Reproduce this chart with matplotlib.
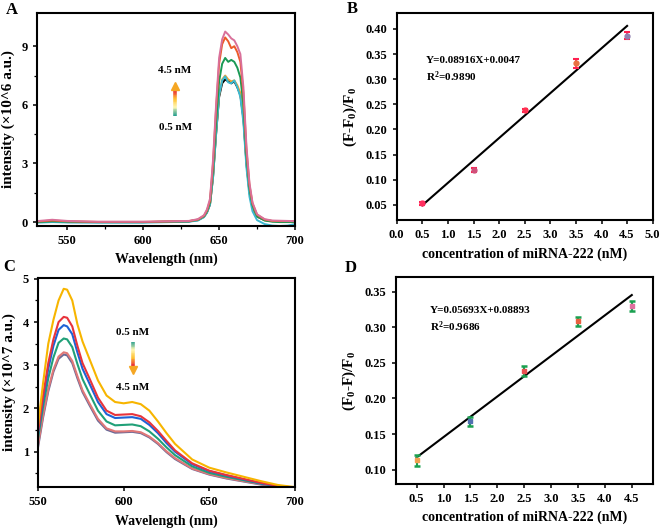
import numpy as np
import matplotlib
matplotlib.use("Agg")
import matplotlib.pyplot as plt
from matplotlib.collections import LineCollection
from matplotlib.colors import LinearSegmentedColormap

plt.rcParams['font.family'] = ['Liberation Serif', 'DejaVu Serif']
plt.rcParams['font.weight'] = 'bold'
plt.rcParams['axes.labelweight'] = 'bold'
plt.rcParams['mathtext.fontset'] = 'custom'
plt.rcParams['mathtext.rm'] = 'Liberation Serif:bold'
plt.rcParams['mathtext.it'] = 'Liberation Serif:bold'
plt.rcParams['mathtext.bf'] = 'Liberation Serif:bold'

# ---- panel A: spectra (x10^6)
wl_a = [530, 540, 550, 570, 600, 630, 636, 640, 642, 644, 646, 648, 650, 652, 654,
        656, 658, 660, 662, 664, 666, 668, 670, 672, 675, 680, 685, 690, 695, 700]
a_black = [0.0, 0.02, 0.0, 0.0, 0.0, 0.03, 0.1, 0.27, 0.5, 0.9, 2.3, 4.5, 6.4, 7.1, 7.3,
           7.2, 7.1, 7.2, 6.9, 6.5, 5.3, 3.0, 1.5, 0.75, 0.28, 0.1, 0.05, 0.04, 0.03, 0.03]
a_orange = [0.0, 0.03, 0.01, 0.0, 0.0, 0.04, 0.11, 0.28, 0.5, 0.95, 2.4, 4.6, 6.5, 7.3, 7.5,
            7.3, 7.2, 7.25, 7.0, 6.6, 5.4, 3.1, 1.6, 0.8, 0.3, 0.1, 0.05, 0.04, 0.03, 0.03]
a_teal = [-0.03, 0.0, -0.02, -0.03, -0.03, 0.02, 0.08, 0.25, 0.48, 0.9, 2.3, 4.5, 6.5, 7.25, 7.45,
          7.15, 7.1, 7.25, 6.9, 6.4, 5.1, 2.8, 1.3, 0.55, 0.1, -0.1, -0.18, -0.2, -0.18, -0.1]
a_green = [0.0, 0.04, 0.02, 0.0, 0.0, 0.04, 0.12, 0.3, 0.55, 1.0, 2.7, 5.1, 7.2, 8.1, 8.4,
           8.2, 8.3, 8.2, 7.9, 7.4, 6.0, 3.4, 1.7, 0.85, 0.3, 0.08, 0.02, 0.0, 0.0, 0.0]
a_red = [0.03, 0.08, 0.04, 0.01, 0.01, 0.05, 0.13, 0.32, 0.6, 1.1, 3.0, 5.8, 8.1, 9.1, 9.45,
         9.25, 8.9, 9.0, 8.7, 8.2, 6.6, 3.7, 1.9, 0.95, 0.38, 0.13, 0.06, 0.05, 0.05, 0.04]
a_pink = [0.05, 0.12, 0.06, 0.02, 0.02, 0.06, 0.15, 0.35, 0.65, 1.2, 3.2, 6.0, 8.4, 9.35, 9.75,
          9.6, 9.4, 9.3, 9.0, 8.6, 6.9, 3.9, 2.0, 1.0, 0.4, 0.15, 0.08, 0.07, 0.06, 0.05]

# ---- panel B: calibration
conc = [0.5, 1.5, 2.5, 3.5, 4.5]
b_y = [0.053, 0.120, 0.238, 0.332, 0.386]
b_err = [0.003, 0.004, 0.003, 0.009, 0.007]
b_slope, b_icpt = 0.08916, 0.0047

# ---- panel C: spectra (x10^7)
wl_c = [550, 553, 556, 559, 562, 565, 567, 570, 573, 576, 580, 585, 590, 595, 600,
        605, 610, 615, 620, 625, 630, 640, 650, 660, 670, 680, 690, 700]
c_yellow = [1.6, 2.6, 3.5, 4.05, 4.5, 4.77, 4.75, 4.5, 3.95, 3.55, 3.15, 2.65, 2.3, 2.15, 2.12,
            2.15, 2.1, 1.95, 1.7, 1.43, 1.18, 0.82, 0.63, 0.52, 0.42, 0.32, 0.23, 0.18]
c_red = [1.45, 2.3, 3.05, 3.6, 4.0, 4.12, 4.1, 3.9, 3.45, 3.05, 2.7, 2.25, 1.95, 1.85, 1.86,
         1.87, 1.82, 1.68, 1.48, 1.25, 1.03, 0.73, 0.56, 0.46, 0.37, 0.28, 0.21, 0.17]
c_blue = [1.4, 2.2, 2.92, 3.45, 3.82, 3.93, 3.9, 3.72, 3.3, 2.92, 2.58, 2.15, 1.87, 1.78, 1.79,
          1.8, 1.76, 1.62, 1.43, 1.2, 1.0, 0.71, 0.55, 0.45, 0.36, 0.27, 0.2, 0.17]
c_green = [1.3, 2.05, 2.7, 3.18, 3.52, 3.62, 3.6, 3.42, 3.03, 2.68, 2.35, 1.95, 1.7, 1.61, 1.62,
           1.63, 1.59, 1.47, 1.3, 1.1, 0.92, 0.66, 0.51, 0.42, 0.34, 0.26, 0.2, 0.17]
c_pink = [1.15, 1.85, 2.45, 2.9, 3.2, 3.3, 3.28, 3.1, 2.75, 2.42, 2.12, 1.76, 1.54, 1.47, 1.47,
          1.48, 1.45, 1.35, 1.2, 1.01, 0.85, 0.61, 0.48, 0.39, 0.32, 0.25, 0.19, 0.16]
c_purple = [1.1, 1.8, 2.4, 2.85, 3.15, 3.25, 3.23, 3.05, 2.7, 2.38, 2.08, 1.72, 1.51, 1.44, 1.45,
            1.46, 1.43, 1.33, 1.18, 0.99, 0.83, 0.6, 0.47, 0.38, 0.31, 0.24, 0.18, 0.16]

# ---- panel D: calibration
d_y = [0.113, 0.168, 0.238, 0.308, 0.330]
d_err = [0.008, 0.006, 0.007, 0.007, 0.007]
d_slope, d_icpt = 0.05693, 0.08893

W, H = 661, 528
fig = plt.figure(figsize=(W / 100, H / 100), dpi=100)


def box(l, t, r, b):
    return [l / W, 1 - b / H, (r - l) / W, (b - t) / H]


def style(ax):
    for s in ax.spines.values():
        s.set_linewidth(1.5)
    ax.tick_params(direction='out', length=3, width=1.1, labelsize=9)
    ax.tick_params(which='minor', length=2, width=0.9)
    for lab in ax.get_xticklabels() + ax.get_yticklabels():
        lab.set_fontweight('bold')


def grad_arrow(ax, x, y0, y1, colors):
    ys = np.linspace(y0, y1, 30)
    segs = [[(x, ys[i]), (x, ys[i + 1])] for i in range(len(ys) - 1)]
    cmap = LinearSegmentedColormap.from_list('g', colors)
    lc = LineCollection(segs, colors=cmap(np.linspace(0, 1, len(segs))), linewidths=2.6)
    ax.add_collection(lc)


# A
axA = fig.add_axes(box(37, 13, 295, 226))
for y, c in [(a_black, 'black'), (a_orange, '#f0a030'), (a_teal, '#3cb8d0'),
             (a_green, '#1a9a55'), (a_red, '#ec5a2a'), (a_pink, '#d9709a')]:
    axA.plot(wl_a, y, color=c, lw=1.4)
axA.set_xlim(530, 700)
axA.set_ylim(-0.2, 10.7)
axA.set_xticks([550, 600, 650, 700])
axA.set_xticks([575, 625, 675], minor=True)
axA.set_yticks([0, 3, 6, 9])
axA.set_yticks([1.5, 4.5, 7.5], minor=True)
axA.set_xlabel('Wavelength (nm)', fontsize=10, labelpad=4)
axA.set_ylabel('intensity (×10^6 a.u.)', fontsize=11, labelpad=5)
grad_arrow(axA, 621, 5.45, 6.75, ['#2aa090', '#fff6b0', '#ffc030', '#e82838'])
axA.plot([621], [6.95], marker='^', ms=6, color='#f5a623', mec='#f5a623')
axA.text(621, 7.75, '4.5 nM', ha='center', va='center', fontsize=8, fontweight='bold')
axA.text(621, 4.85, '0.5 nM', ha='center', va='center', fontsize=8, fontweight='bold')
style(axA)

# B
axB = fig.add_axes(box(396.7, 13.3, 652.7, 220))
xl = np.array([conc[0], conc[-1]])
axB.plot(xl, b_slope * xl + b_icpt, color='black', lw=1.5)
b_cols = ['#ff3060', '#d0507a', '#ff3050', '#e87040', '#9080b0']
for x, y, e, c in zip(conc, b_y, b_err, b_cols):
    axB.errorbar(x, y, yerr=e, fmt='o', ms=3.5, color=c, ecolor='#ff2050',
                 elinewidth=1.3, capsize=2.5, capthick=1.5)
axB.set_xlim(0, 5)
axB.set_ylim(0.02, 0.431)
axB.set_xticks(np.arange(0, 5.01, 0.5))
axB.set_yticks(np.arange(0.05, 0.401, 0.05))
axB.xaxis.set_major_formatter(matplotlib.ticker.FormatStrFormatter('%.1f'))
axB.yaxis.set_major_formatter(matplotlib.ticker.FormatStrFormatter('%.2f'))
axB.set_xlabel('concentration of miRNA-222 (nM)', fontsize=10, labelpad=5)
axB.set_ylabel(r'(F-F$_0$)/F$_0$', fontsize=11, labelpad=5)
axB.text(0.57, 0.338, 'Y=0.08916X+0.0047', fontsize=8, fontweight='bold', va='center')
axB.text(0.57, 0.305, r'R$^2$=0.9890', fontsize=8, fontweight='bold', va='center')
style(axB)

# C
axC = fig.add_axes(box(38, 278, 295, 486.7))
for y, c in [(c_purple, '#6a6a98'), (c_pink, '#e07878'), (c_green, '#20a078'),
             (c_blue, '#1e62d6'), (c_red, '#e8333b'), (c_yellow, '#f7b500')]:
    axC.plot(wl_c, y, color=c, lw=1.5)
axC.set_xlim(550, 700)
axC.set_ylim(0.19, 5.02)
axC.set_xticks([550, 600, 650, 700])
axC.set_yticks([1, 2, 3, 4, 5])
axC.set_yticks([1.5, 2.5, 3.5, 4.5, 0.5], minor=True)
axC.set_xlabel('Wavelength (nm)', fontsize=10, labelpad=5)
axC.set_ylabel('intensity (×10^7 a.u.)', fontsize=11, labelpad=5)
grad_arrow(axC, 605.3, 3.55, 2.98, ['#2aa090', '#fff6b0', '#ffc030', '#e82838'])
axC.plot([605.3], [2.88], marker='v', ms=6, color='#f5a623', mec='#f5a623')
axC.text(605.3, 3.75, '0.5 nM', ha='center', va='center', fontsize=8, fontweight='bold')
axC.text(605.3, 2.49, '4.5 nM', ha='center', va='center', fontsize=8, fontweight='bold')
style(axC)

# D
axD = fig.add_axes(box(395.7, 277.3, 653.3, 484))
axD.plot(xl, d_slope * xl + d_icpt, color='black', lw=1.5)
d_cols = ['#f0a050', '#5070b0', '#e85050', '#e86040', '#e070a0']
for x, y, e, c in zip(conc, d_y, d_err, d_cols):
    axD.errorbar(x, y, yerr=e, fmt='s', ms=3.5, color=c, ecolor='#1aa050',
                 elinewidth=1.5, capsize=2.5, capthick=1.8)
axD.set_xlim(0.11, 4.9)
axD.set_ylim(0.08, 0.37)
axD.set_xticks(np.arange(0.5, 4.51, 0.5))
axD.set_yticks(np.arange(0.10, 0.351, 0.05))
axD.xaxis.set_major_formatter(matplotlib.ticker.FormatStrFormatter('%.1f'))
axD.yaxis.set_major_formatter(matplotlib.ticker.FormatStrFormatter('%.2f'))
axD.set_xlabel('concentration of miRNA-222 (nM)', fontsize=10, labelpad=4)
axD.set_ylabel(r'(F$_0$-F)/F$_0$', fontsize=11, labelpad=5)
axD.text(0.75, 0.323, 'Y=0.05693X+0.08893', fontsize=8, fontweight='bold', va='center')
axD.text(0.75, 0.300, r'R$^2$=0.9686', fontsize=8, fontweight='bold', va='center')
style(axD)

# panel letters
for lab, x, y in [('A', 12, 10), ('B', 352, 9), ('C', 9, 267), ('D', 351, 268)]:
    fig.text(x / W, 1 - y / H, lab, fontsize=12, fontweight='bold', ha='center', va='center')

fig.savefig('out.png', dpi=100)
